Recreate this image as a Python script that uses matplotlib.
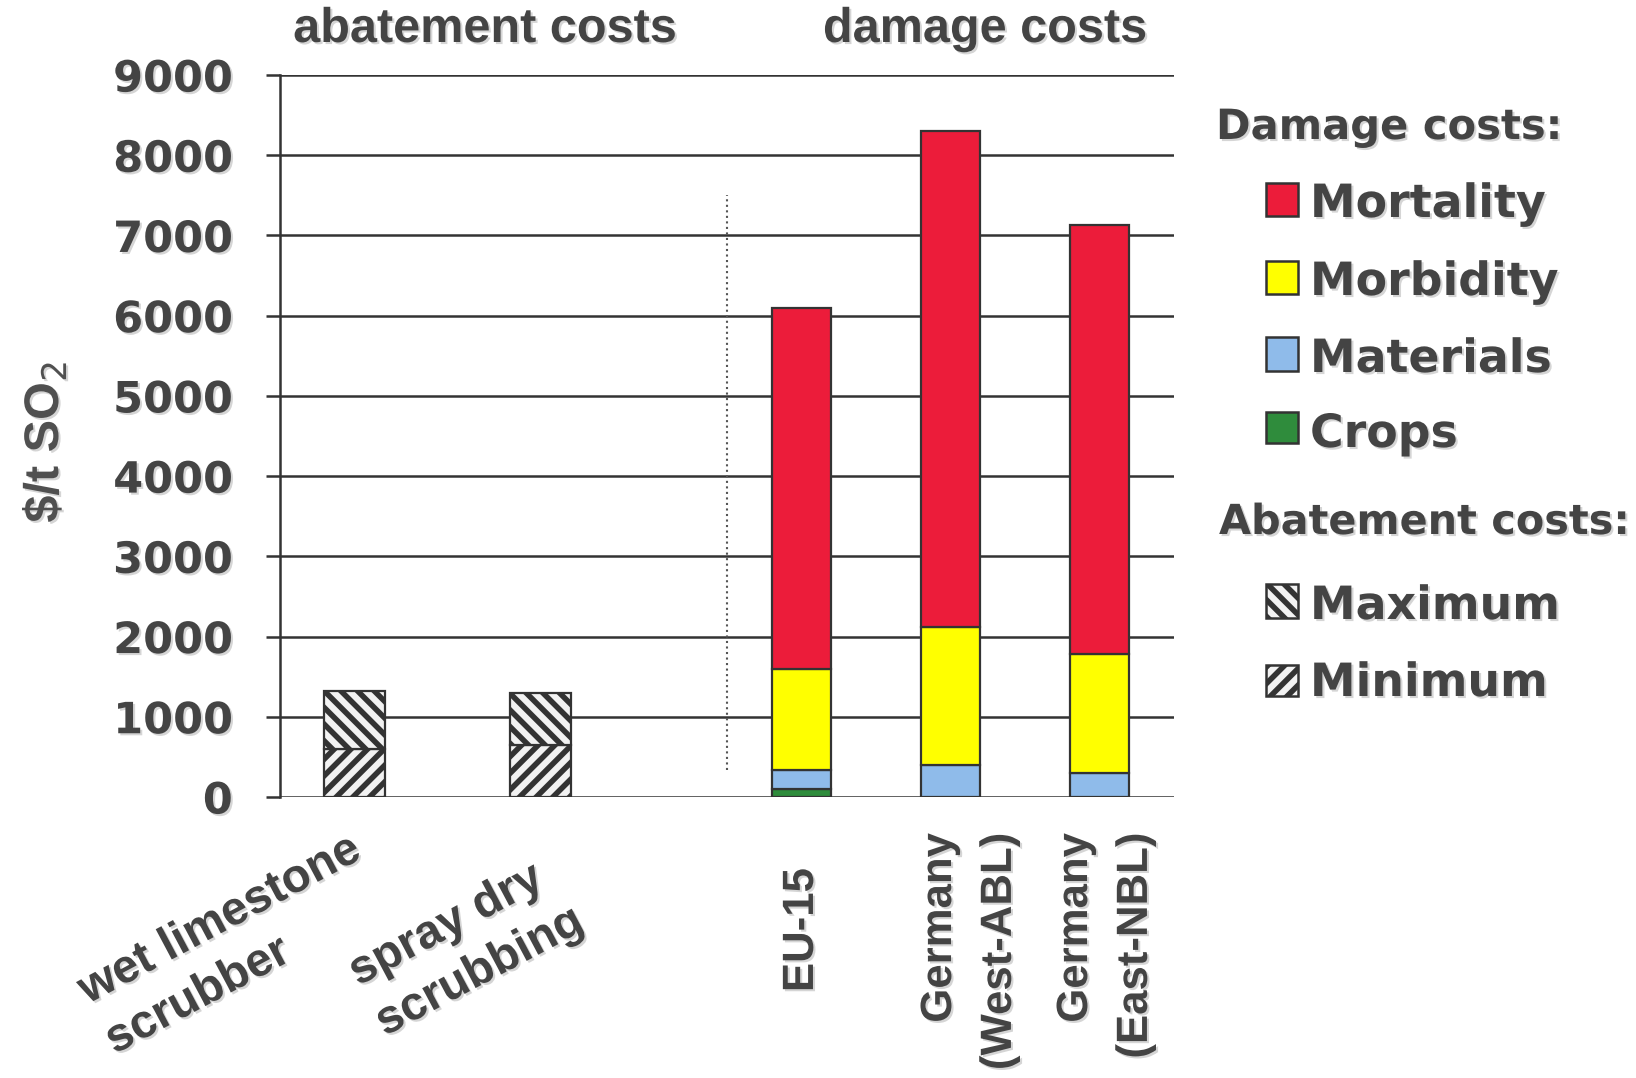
import matplotlib
matplotlib.use("Agg")
import matplotlib.pyplot as plt
import matplotlib.patheffects as pe
import matplotlib.transforms as mtransforms
from matplotlib.patches import Rectangle

plt.rcParams['font.family'] = ['DejaVu Sans']
plt.rcParams['hatch.linewidth'] = 4.0

# abatement cost options (min / max, $/t SO2)
abatement_labels = ["wet limestone\nscrubber", "spray dry\nscrubbing"]
abate_min = [600, 650]
abate_max = [1320, 1300]

# damage costs by region, stacked ($/t SO2)
damage_labels = ["EU-15", "Germany\n(West-ABL)", "Germany\n(East-NBL)"]
crops = [100, 0, 0]
materials = [230, 400, 300]
morbidity = [1270, 1720, 1480]
mortality = [4500, 6180, 5350]

yticks = [0, 1000, 2000, 3000, 4000, 5000, 6000, 7000, 8000, 9000]

abate_x = [0, 1]
damage_x = [2.4, 3.2, 4.0]

text_col = '#444444'
edge_col = '#333333'
col_mort = '#ec1c3a'
col_morb = '#ffff00'
col_mat = '#8fbbea'
col_crop = '#2f8c3c'
hatch_face = '#f2f2f2'
helv = ['Liberation Sans', 'DejaVu Sans']

shadow = [pe.SimplePatchShadow(offset=(1.5, -1.5), shadow_rgbFace='#888888', alpha=0.35), pe.Normal()]

fig = plt.figure(figsize=(16.36, 10.78), dpi=100)
ax = fig.add_axes([0.1711, 0.2607, 0.5465, 0.6697])

# abatement bars (hatched)
lo = abate_min
hi = [b - a for a, b in zip(abate_min, abate_max)]
ax.bar(abate_x, lo, width=0.33, color=hatch_face, edgecolor=edge_col, linewidth=1.6, hatch='//', zorder=3)
ax.bar(abate_x, hi, bottom=lo, width=0.33, color=hatch_face, edgecolor=edge_col, linewidth=1.6, hatch='\\\\', zorder=3)

# damage bars (stacked)
bottom = [0, 0, 0]
for vals, col in [(crops, col_crop), (materials, col_mat), (morbidity, col_morb), (mortality, col_mort)]:
    ax.bar(damage_x, vals, bottom=bottom, width=0.32, color=col, edgecolor=edge_col, linewidth=1.6, zorder=3)
    bottom = [b + v for b, v in zip(bottom, vals)]

# dotted separator
ax.plot([2.0, 2.0], [340, 7500], color='#555555', linestyle=':', linewidth=1.5, zorder=2)

ax.set_xlim(-0.4, 4.4)
ax.set_ylim(0, 9000)
ax.set_yticks(yticks)
ax.set_xticks([])
ax.yaxis.grid(True, color=edge_col, linewidth=1.8)
ax.set_axisbelow(True)
for s in ['top', 'right', 'bottom']:
    ax.spines[s].set_visible(False)
ax.spines['left'].set_color(edge_col)
ax.spines['left'].set_linewidth(1.8)
ax.tick_params(axis='y', length=10, width=1.8, color=edge_col, pad=24,
               labelsize=31, labelcolor=text_col)
for lab in ax.get_yticklabels():
    lab.set_fontweight('bold')
    lab.set_path_effects(shadow)

fig.text(45 / 1636, 1 - 442 / 1078, r"\$/t SO$_2$", rotation=90, ha='center', va='center',
         fontsize=35, family=helv, fontweight='bold', color='#505050', path_effects=shadow)

# x labels
xtrans = ax.get_xaxis_transform()


def offset(dx, dy):
    return xtrans + mtransforms.ScaledTranslation(dx / 100, -dy / 100, fig.dpi_scale_trans)


# anchored at the start of the last line
abate_offsets = [(-246, 246), (-162, 228)]
for x, lab, (dx, dy) in zip(abate_x, abatement_labels, abate_offsets):
    ax.text(x, 0, lab, transform=offset(dx, dy), rotation=28, rotation_mode='anchor',
            ha='left', va='baseline', multialignment='left', fontsize=34, fontweight='bold',
            family=helv, color=text_col, linespacing=1.38, path_effects=shadow)

damage_offsets = [(0, 71), (19, 36), (6, 36)]
for x, lab, (dx, dy) in zip(damage_x, damage_labels, damage_offsets):
    ax.text(x, 0, lab, transform=offset(dx, dy), rotation=90,
            ha='center', va='top', multialignment='right', fontsize=31.5, fontweight='bold',
            family=helv, color=text_col, linespacing=1.59, path_effects=shadow)

# section titles
fig.text(485 / 1636, 1 - 42 / 1078, "abatement costs", ha='center', va='baseline',
         fontsize=35, fontweight='bold', family=helv, color=text_col, path_effects=shadow)
fig.text(985 / 1636, 1 - 42 / 1078, "damage costs", ha='center', va='baseline',
         fontsize=35, fontweight='bold', family=helv, color=text_col, path_effects=shadow)

# legend drawn by hand
W, H = 1636, 1078


def legend_box(x0, y0, x1, y1, face, hatch=None):
    r = Rectangle((x0 / W, 1 - y1 / H), (x1 - x0) / W, (y1 - y0) / H, transform=fig.transFigure,
                  facecolor=face, edgecolor=edge_col, linewidth=1.8, hatch=hatch)
    fig.add_artist(r)


fig.text(1216 / W, 1 - 139 / H, "Damage costs:", ha='left', va='baseline',
         fontsize=30, fontweight='bold', color=text_col, path_effects=shadow)
fig.text(1219 / W, 1 - 534 / H, "Abatement costs:", ha='left', va='baseline',
         fontsize=29.8, fontweight='bold', color=text_col, path_effects=shadow)

items = [
    ("Mortality", col_mort, None, 183, 216, 217),
    ("Morbidity", col_morb, None, 261, 294, 295),
    ("Materials", col_mat, None, 337, 371, 372),
    ("Crops", col_crop, None, 412, 443, 447),
    ("Maximum", hatch_face, '\\\\', 584, 618, 619),
    ("Minimum", hatch_face, '//', 665, 696, 696),
]
for name, face, hatch, y0, y1, base in items:
    legend_box(1266, y0, 1298, y1, face, hatch)
    fig.text(1310 / W, 1 - base / H, name, ha='left', va='baseline',
             fontsize=33, fontweight='bold', color=text_col, path_effects=shadow)

fig.savefig("out.png", dpi=100, facecolor='white')
